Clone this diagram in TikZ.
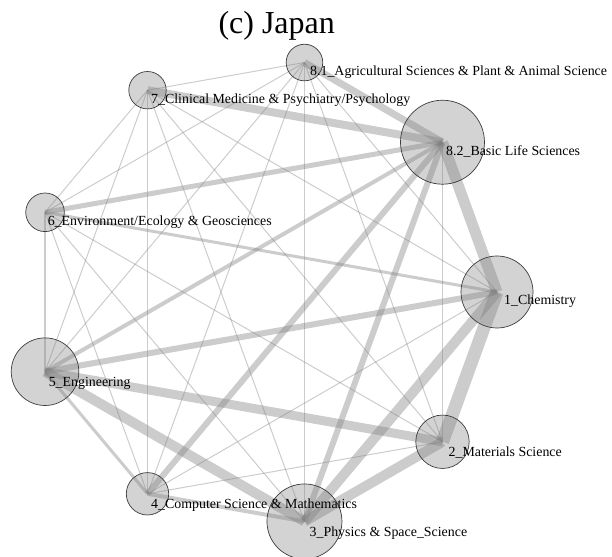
\documentclass[tikz,border=0pt]{standalone}
\usepackage{fontspec}
\setmainfont{Liberation Serif}
\usetikzlibrary{calc}
\pgfdeclarelayer{background}
\pgfsetlayers{background,main}
\definecolor{edgegray}{RGB}{128,128,128}
\definecolor{vfill}{RGB}{128,128,128}
\definecolor{vline}{RGB}{60,60,60}
\begin{document}
\begin{tikzpicture}[x=1pt,y=1pt,
  vtx/.style={circle, inner sep=0pt, draw=vline, line width=0.7pt, fill=vfill, fill opacity=0.35},
  edge/.style={draw=edgegray, draw opacity=0.4, line cap=butt},
  lbl/.style={anchor=base west, inner sep=0pt, font=\fontsize{13.9}{16}\selectfont, text=black},
  ttl/.style={anchor=base, inner sep=0pt, font=\fontsize{32}{36}\selectfont, text=black}]
\useasboundingbox (0,0) rectangle (612,556);
\coordinate (O) at (264,264);
% vertices
\node[vtx, minimum size=72pt]   (n1)  at ($(O)+(0:233)$) {};
\node[vtx, minimum size=53.4pt] (n2)  at ($(O)+(-40:233)$) {};
\node[vtx, minimum size=75pt]   (n3)  at ($(O)+(-80:233)$) {};
\node[vtx, minimum size=42.4pt] (n4)  at ($(O)+(-120:233)$) {};
\node[vtx, minimum size=67.6pt] (n5)  at ($(O)+(-160:233)$) {};
\node[vtx, minimum size=38.6pt] (n6)  at ($(O)+(-200:233)$) {};
\node[vtx, minimum size=37.4pt] (n7)  at ($(O)+(-240:233)$) {};
\node[vtx, minimum size=36.6pt] (n81) at ($(O)+(-280:233)$) {};
\node[vtx, minimum size=84pt]   (n82) at ($(O)+(-320:233)$) {};
% edges
\begin{pgfonlayer}{background}
\foreach \a/\b/\w in {
  n1/n2/13, n1/n3/10, n1/n4/1, n1/n5/6, n1/n6/3, n1/n7/1, n1/n81/1, n1/n82/11,
  n2/n3/10, n2/n4/1, n2/n5/9, n2/n6/1, n2/n7/1, n2/n81/1, n2/n82/1.3,
  n3/n4/4, n3/n5/10, n3/n6/1, n3/n7/1, n3/n81/1, n3/n82/6,
  n4/n5/3, n4/n6/1, n4/n7/1.5, n4/n81/1, n4/n82/6,
  n5/n6/2.5, n5/n7/1, n5/n81/1, n5/n82/4,
  n6/n7/1, n6/n81/1, n6/n82/5,
  n7/n81/1, n7/n82/8,
  n81/n82/7}{
  \draw[edge, line width=\w pt] (\a.center) -- (\b.center);
}
\end{pgfonlayer}
% labels
\node[lbl] (l1)  at ($(n1)+(7,-13)$) {1\_Chemistry};
\node[lbl] (l2)  at ($(n2)+(6,-14.5)$) {2\_Materials Science};
\node[lbl] (l3)  at ($(n3)+(5,-15)$) {3\_Physics \& Space\_Science};
\node[lbl] (l4)  at ($(n4)+(3.5,-14.5)$) {4\_Computer Science \& Mathematics};
\node[lbl] (l5)  at ($(n5)+(3.5,-15)$) {5\_Engineering};
\node[lbl] (l6)  at ($(n6)+(2.5,-12.7)$) {6\_Environment/Ecology \& Geosciences};
\node[lbl] (l7)  at ($(n7)+(3.5,-13)$) {7\_Clinical Medicine \& Psychiatry/Psychology};
\node[lbl] (l81) at ($(n81)+(5.5,-12.5)$) {8.1\_Agricultural Sciences \& Plant \& Animal Science};
\node[lbl] (l82) at ($(n82)+(3.5,-13)$) {8.2\_Basic Life Sciences};
% title
\node[ttl] (title) at (276.7,522.7) {(c) Japan};
\end{tikzpicture}
\end{document}
